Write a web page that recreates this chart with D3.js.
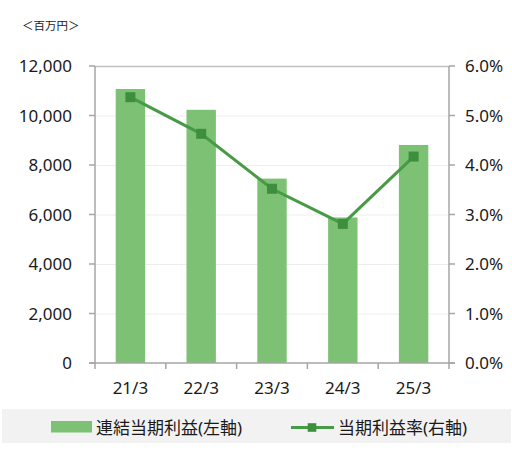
<!DOCTYPE html>
<html>
<head>
<meta charset="utf-8">
<script src="https://cdn.jsdelivr.net/npm/d3@7"></script>
<style>
  body { margin: 0; background: #fff; }
  svg { display: block; }
  text { font-family: "Noto Sans", "Noto Sans CJK JP", sans-serif; fill: #1a1a1a; }
</style>
</head>
<body>
<svg id="chart" width="512" height="457"></svg>
<script>
// data
var categories = ["21/3", "22/3", "23/3", "24/3", "25/3"];
var profit = [11070, 10230, 7450, 5880, 8810];      // 連結当期利益 (百万円)
var margin = [5.37, 4.63, 3.52, 2.81, 4.17];         // 当期利益率 (%)
var leftTicks = [0, 2000, 4000, 6000, 8000, 10000, 12000];
var rightTicks = [0, 1, 2, 3, 4, 5, 6];

var barColor = "#7cc174";
var lineColor = "#479b45";
var markColor = "#3e8f3d";

var plot = {left: 95, top: 66, right: 449, bottom: 363};

var svg = d3.select("#chart");

var x = d3.scaleBand()
    .domain(categories)
    .range([plot.left, plot.right]);

var y = d3.scaleLinear()
    .domain([0, 12000])
    .range([plot.bottom, plot.top]);

var y2 = d3.scaleLinear()
    .domain([0, 6])
    .range([plot.bottom, plot.top]);

// unit label
svg.append("text")
    .attr("x", 22)
    .attr("y", 25.5)
    .attr("dominant-baseline", "central")
    .attr("font-size", 11.5)
    .attr("font-family", "Noto Sans CJK JP")
    .text("＜百万円＞");

// gridlines
svg.append("g")
  .selectAll("line")
  .data(leftTicks.slice(1, -1))
  .join("line")
    .attr("x1", plot.left)
    .attr("x2", plot.right)
    .attr("y1", d => y(d) + 0.5)
    .attr("y2", d => y(d) + 0.5)
    .attr("stroke", "#ededed")
    .attr("stroke-width", 1);

// top border
svg.append("line")
    .attr("x1", plot.left).attr("x2", plot.right)
    .attr("y1", plot.top + 0.5).attr("y2", plot.top + 0.5)
    .attr("stroke", "#bfbfbf")
    .attr("stroke-width", 1.5);

// bars
var bw = x.bandwidth() * 0.415;
svg.append("g")
  .selectAll("rect")
  .data(profit)
  .join("rect")
    .attr("x", (d, i) => x(categories[i]) + x.bandwidth() / 2 - bw / 2)
    .attr("y", d => y(d))
    .attr("width", bw)
    .attr("height", d => y(0) - y(d))
    .attr("fill", barColor);

// axes
var axisColor = "#a6a6a6";
var ax = svg.append("g")
    .attr("stroke", axisColor)
    .attr("stroke-width", 1.5);

ax.append("line")
    .attr("x1", plot.left).attr("x2", plot.left)
    .attr("y1", plot.top).attr("y2", plot.bottom);
ax.append("line")
    .attr("x1", plot.right).attr("x2", plot.right)
    .attr("y1", plot.top).attr("y2", plot.bottom);
ax.append("line")
    .attr("x1", plot.left - 6).attr("x2", plot.right + 6)
    .attr("y1", plot.bottom).attr("y2", plot.bottom);

ax.selectAll(".lt")
  .data(leftTicks)
  .join("line")
    .attr("x1", plot.left - 6).attr("x2", plot.left)
    .attr("y1", d => y(d)).attr("y2", d => y(d));

ax.selectAll(".rt")
  .data(rightTicks)
  .join("line")
    .attr("class", "rt")
    .attr("x1", plot.right).attr("x2", plot.right + 6)
    .attr("y1", d => y2(d)).attr("y2", d => y2(d));

var bounds = categories.map(c => x(c)).concat([plot.right]);
ax.selectAll(".bt")
  .data(bounds)
  .join("line")
    .attr("class", "bt")
    .attr("x1", d => d).attr("x2", d => d)
    .attr("y1", plot.bottom).attr("y2", plot.bottom + 6);

// tick labels
var fmt = d3.format(",");
svg.append("g")
  .selectAll("text")
  .data(leftTicks)
  .join("text")
    .attr("x", 72)
    .attr("y", d => y(d))
    .attr("dy", "0.36em")
    .attr("text-anchor", "end")
    .attr("font-size", 17)
    .text(d => fmt(d));

svg.append("g")
  .selectAll("text")
  .data(rightTicks)
  .join("text")
    .attr("x", 465)
    .attr("y", d => y2(d))
    .attr("dy", "0.36em")
    .attr("text-anchor", "start")
    .attr("font-size", 17)
    .text(d => d.toFixed(1) + "%");

svg.append("g")
  .selectAll("text")
  .data(categories)
  .join("text")
    .attr("x", d => x(d) + x.bandwidth() / 2)
    .attr("y", 394)
    .attr("text-anchor", "middle")
    .attr("font-size", 17)
    .text(d => d);

// margin line
var line = d3.line()
    .x((d, i) => x(categories[i]) + x.bandwidth() / 2)
    .y(d => y2(d));

svg.append("path")
    .datum(margin)
    .attr("fill", "none")
    .attr("stroke", lineColor)
    .attr("stroke-width", 3)
    .attr("d", line);

svg.append("g")
  .selectAll("rect")
  .data(margin)
  .join("rect")
    .attr("x", (d, i) => x(categories[i]) + x.bandwidth() / 2 - 5)
    .attr("y", d => y2(d) - 5)
    .attr("width", 10)
    .attr("height", 10)
    .attr("fill", markColor);

// legend
var lg = svg.append("g");
lg.append("rect")
    .attr("x", 2).attr("y", 409)
    .attr("width", 509).attr("height", 34)
    .attr("fill", "#f2f2f2");

lg.append("rect")
    .attr("x", 51).attr("y", 421)
    .attr("width", 41).attr("height", 11.5)
    .attr("fill", barColor);
lg.append("text")
    .attr("x", 96).attr("y", 427)
    .attr("dominant-baseline", "central")
    .attr("font-size", 17)
    .text("連結当期利益(左軸)");

lg.append("line")
    .attr("x1", 291).attr("x2", 334)
    .attr("y1", 427.5).attr("y2", 427.5)
    .attr("stroke", lineColor)
    .attr("stroke-width", 3);
lg.append("rect")
    .attr("x", 307.7).attr("y", 423.2)
    .attr("width", 8.6).attr("height", 8.6)
    .attr("fill", markColor);
lg.append("text")
    .attr("x", 338).attr("y", 427)
    .attr("dominant-baseline", "central")
    .attr("font-size", 17)
    .text("当期利益率(右軸)");
</script>
</body>
</html>
